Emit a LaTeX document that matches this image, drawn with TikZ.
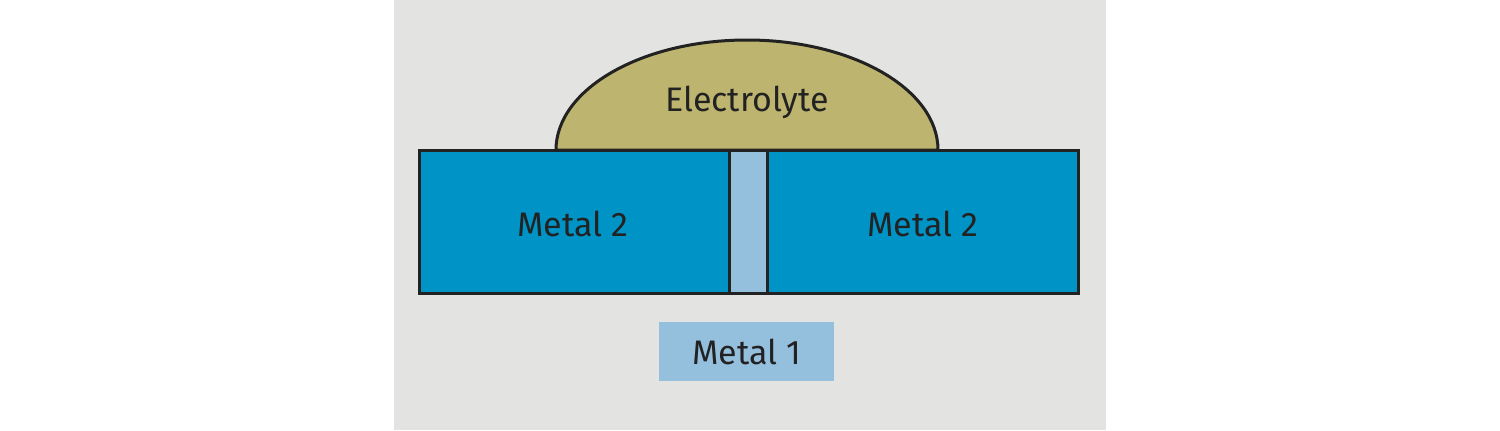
\documentclass[tikz,border=0pt]{standalone}
\usepackage{fontspec}
\setmainfont{Fira Sans}
\usetikzlibrary{positioning}
\definecolor{bggray}{HTML}{E3E3E2}
\definecolor{metaltwo}{HTML}{0094C6}
\definecolor{metalone}{HTML}{94BFDD}
\definecolor{electro}{HTML}{BDB56F}
\definecolor{inkline}{HTML}{222222}

\begin{document}
\begin{tikzpicture}[
  x=0.5pt, y=0.5pt,
  edge/.style = {draw=inkline, line width=1.5pt},
  metal2 box/.style = {edge, fill=metaltwo},
  gap box/.style = {edge, fill=metalone},
  drop/.style = {edge, fill=electro},
  label/.style = {font=\fontsize{17}{20}\selectfont, text=inkline, inner sep=0pt},
  metal1 box/.style = {label, fill=metalone, minimum width=87.5pt, minimum height=29.5pt},
]
\useasboundingbox (0,0) rectangle (1500,430);
\fill[bggray] (394,0) rectangle (1106,430);

% electrolyte drop on top
\path[drop] (556,280) arc[start angle=180, end angle=0, x radius=191, y radius=110] -- cycle;

% the two metal 2 blocks and the gap between them
\path[metal2 box] (419,137) rectangle (729.5,280);
\path[gap box] (729.5,137) rectangle (767.5,280);
\path[metal2 box] (767.5,137) rectangle (1078,280);

\node[label] (electrolyte) at (747,328) {Electrolyte};
\node[label] (metal2-l) at (573,206) {Metal 2};
\node[label] (metal2-r) at (923,206) {Metal 2};
\node[metal1 box] (metal1) at (746.5,78.5) {Metal 1};

\end{tikzpicture}
\end{document}
